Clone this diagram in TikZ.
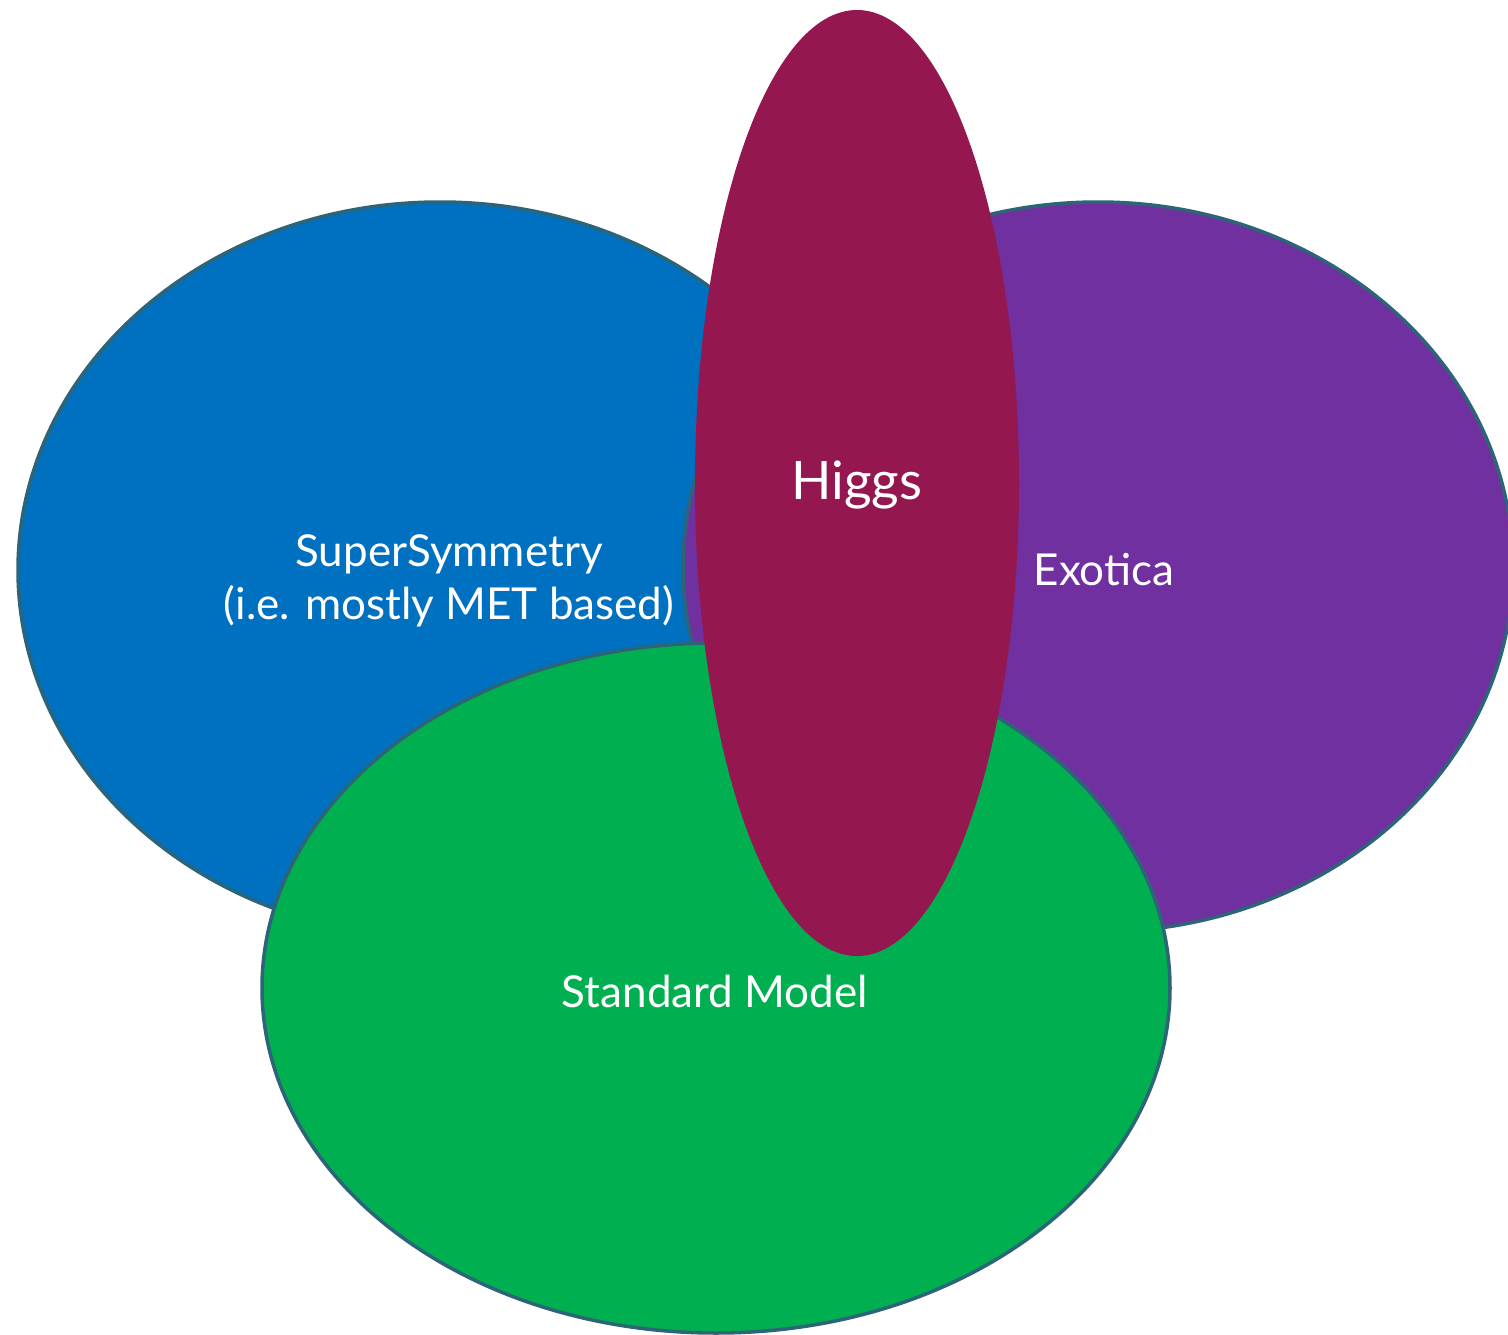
\documentclass[tikz,border=0pt]{standalone}
\usepackage{fontspec}
\setmainfont{Lato}
\usetikzlibrary{shapes.geometric}
\definecolor{cblue}{HTML}{0070C0}
\definecolor{cpurple}{HTML}{7030A0}
\definecolor{cgreen}{HTML}{00B050}
\definecolor{chiggs}{HTML}{951750}
\definecolor{cline}{HTML}{2C6478}
\tikzset{
  blob/.style={ellipse, inner sep=0pt, outer sep=0pt, draw=cline, line width=3.5pt},
  lbl/.style={text=white, anchor=base, inner sep=0pt, font=\fontsize{44}{57}\selectfont},
}
\begin{document}
\begin{tikzpicture}[x=1pt,y=-1pt]
\useasboundingbox (0,0) rectangle (1508,1335);
\clip (0,0) rectangle (1508,1335);
\node[blob, fill=cblue, minimum width=844pt, minimum height=736pt] (susy) at (440,570) {};
\node[blob, fill=cpurple, minimum width=830pt, minimum height=730pt] (exo) at (1098,567) {};
\node[blob, fill=cgreen, minimum width=908pt, minimum height=690pt] (sm) at (716,988) {};
\node[ellipse, inner sep=0pt, outer sep=0pt, fill=chiggs, minimum width=324pt, minimum height=946pt] (higgs) at (857,483) {};
\node[lbl] (tsusy1) at (449,566) {SuperSymmetry};
\node[lbl] (tsusy2) at (449,619) {(i.e. mostly MET based)};
\node[lbl, font=\fontsize{53}{57}\selectfont] (thiggs) at (857,499) {Higgs};
\node[lbl] (texo) at (1104,585) {Exotica};
\node[lbl] (tsm) at (715,1007) {Standard Model};
\end{tikzpicture}
\end{document}
